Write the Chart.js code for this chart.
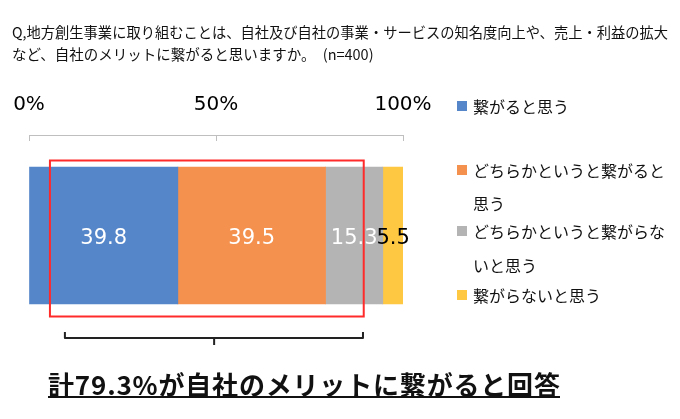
<!DOCTYPE html>
<html>
<head>
<meta charset="utf-8">
<script src="https://cdn.jsdelivr.net/npm/chart.js@4/dist/chart.umd.min.js"></script>
<style>
  html, body { margin: 0; padding: 0; background: #fff; }
  #chart { display: block; }
</style>
</head>
<body>
<canvas id="chart" width="680" height="419"></canvas>
<script>
const categories = [''];
const seriesNames = ['繋がると思う', 'どちらかというと繋がると思う', 'どちらかというと繋がらないと思う', '繋がらないと思う'];
const legendLines = [['繋がると思う'], ['どちらかというと繋がると', '思う'], ['どちらかというと繋がらな', 'いと思う'], ['繋がらないと思う']];
const seriesValues = [39.8, 39.5, 15.3, 5.5];
const seriesColors = ['#5586C9', '#F4914F', '#B4B4B4', '#FFC843'];
const labelColors = ['#ffffff', '#ffffff', '#ffffff', '#000000'];
const tickValues = [0, 50, 100];
const titleLines = [
    'Q,地方創生事業に取り組むことは、自社及び自社の事業・サービスの知名度向上や、売上・利益の拡大',
    'など、自社のメリットに繋がると思いますか。　(n=400)'
];
const summaryText = '計79.3%が自社のメリットに繋がると回答';
// highlighted range (red box) and bracket range, in axis %
const boxRange = [5.6, 89.5];
const bracketRange = [9.6, 89.3, 49.5];

const JP = "'Noto Sans CJK JP', 'Noto Sans', sans-serif";

const extras = {
    id: 'extras',
    afterDraw(chart) {
        const ctx = chart.ctx;
        const xs = chart.scales.x;
        const area = chart.chartArea;
        ctx.save();

        // title
        ctx.fillStyle = '#111';
        ctx.font = '14.5px ' + JP;
        ctx.textBaseline = 'middle';
        ctx.textAlign = 'left';
        ctx.fillText(titleLines[0], 12, 32, 656);
        ctx.fillText(titleLines[1], 12, 54);

        // inward tick marks on the top axis
        ctx.strokeStyle = '#BFBFBF';
        ctx.lineWidth = 1;
        tickValues.forEach(v => {
            const x = Math.round(xs.getPixelForValue(v)) + 0.5;
            ctx.beginPath();
            ctx.moveTo(x, area.top);
            ctx.lineTo(x, area.top + 6);
            ctx.stroke();
        });

        // value labels
        ctx.font = '21px "DejaVu Sans"';
        ctx.textAlign = 'center';
        chart.data.datasets.forEach((ds, i) => {
            const el = chart.getDatasetMeta(i).data[0];
            ctx.fillStyle = labelColors[i];
            ctx.fillText(String(ds.data[0]), (el.x + el.base) / 2, el.y + 3);
        });

        // red highlight box
        const bar = chart.getDatasetMeta(0).data[0];
        const bx1 = xs.getPixelForValue(boxRange[0]);
        const bx2 = xs.getPixelForValue(boxRange[1]);
        ctx.strokeStyle = '#FF2B2B';
        ctx.lineWidth = 2;
        ctx.strokeRect(bx1, bar.y - 75, bx2 - bx1, 156);

        // bracket
        const l = xs.getPixelForValue(bracketRange[0]);
        const r = xs.getPixelForValue(bracketRange[1]);
        const c = xs.getPixelForValue(bracketRange[2]);
        ctx.strokeStyle = '#222';
        ctx.lineWidth = 2;
        ctx.lineJoin = 'round';
        ctx.beginPath();
        ctx.moveTo(l, 332);
        ctx.lineTo(l, 338);
        ctx.lineTo(r, 338);
        ctx.lineTo(r, 332);
        ctx.moveTo(c, 338);
        ctx.lineTo(c, 345);
        ctx.stroke();

        // legend
        const legendY = [[106, null], [170, 203], [231, 265], [295, null]];
        ctx.font = '16px ' + JP;
        ctx.textAlign = 'left';
        legendLines.forEach((lines, i) => {
            ctx.fillStyle = seriesColors[i];
            ctx.fillRect(457, legendY[i][0] - 5, 10, 10);
            ctx.fillStyle = '#111';
            lines.forEach((t, k) => ctx.fillText(t, 473, legendY[i][k] + 1));
        });

        // summary line
        ctx.font = 'bold 26px ' + JP;
        ctx.fillStyle = '#111';
        const w = ctx.measureText(summaryText).width;
        const target = 512;
        const n = [...summaryText].length;
        ctx.letterSpacing = ((target - w) / (n - 1)).toFixed(2) + 'px';
        ctx.fillText(summaryText, 48, 385);
        ctx.letterSpacing = '0px';
        ctx.fillRect(48, 396, target, 2);

        ctx.restore();
    }
};

new Chart(document.getElementById('chart'), {
    type: 'bar',
    data: {
        labels: categories,
        datasets: seriesNames.map((name, i) => ({
            label: name,
            data: [seriesValues[i]],
            backgroundColor: seriesColors[i],
            borderWidth: 0,
            barThickness: 137
        }))
    },
    options: {
        responsive: false,
        animation: false,
        indexAxis: 'y',
        layout: { padding: { left: 29, right: 277, top: 89, bottom: 83 } },
        plugins: {
            legend: { display: false },
            title: { display: false },
            tooltip: { enabled: false }
        },
        scales: {
            x: {
                position: 'top',
                stacked: true,
                min: 0,
                max: 100,
                afterBuildTicks: s => { s.ticks = tickValues.map(v => ({ value: v })); },
                afterFit: s => {
                    s.height = 46;
                    s.paddingLeft = 0;
                    s.paddingRight = 0;
                },
                ticks: {
                    callback: v => v + '%',
                    font: { family: 'DejaVu Sans', size: 20 },
                    color: '#000',
                    padding: 18,
                    maxRotation: 0,
                    autoSkip: false
                },
                grid: { drawOnChartArea: false, drawTicks: false, color: '#BFBFBF' },
                border: { display: true, color: '#BFBFBF' }
            },
            y: { stacked: true, display: false }
        }
    },
    plugins: [extras]
});
</script>
</body>
</html>
